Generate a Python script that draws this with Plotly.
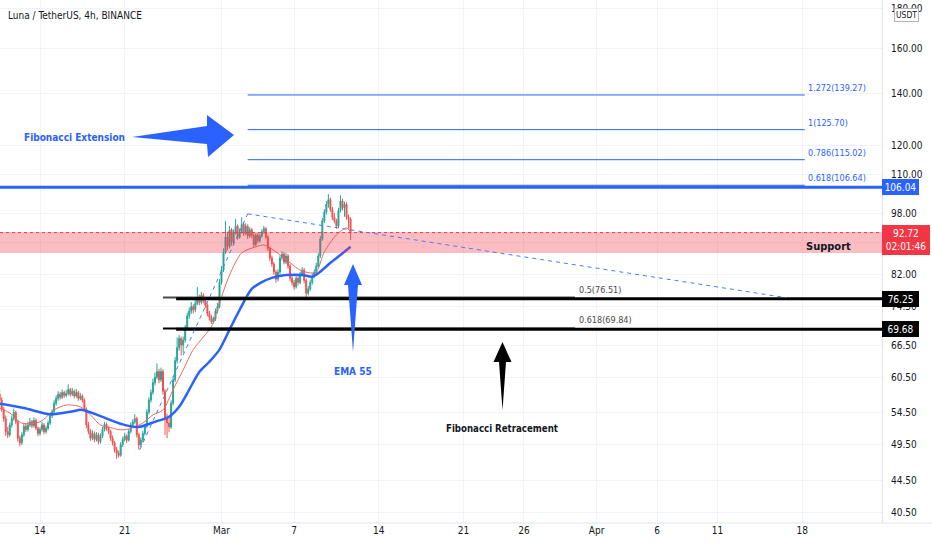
import math
import pandas as pd
import plotly.graph_objects as go

# ---------------- data ----------------
candle_start = "2022-02-10 16:00"   # first 4h candle
opens = [57.5, 56.5, 55.0, 53.5, 51.5, 51.0, 52.5, 53.5, 54.5, 53.0,
         50.5, 49.8, 51.0, 52.3, 51.8, 52.5, 53.0, 52.4, 53.2, 52.0,
         51.2, 51.8, 52.5, 51.5, 52.0, 52.8, 54.0, 54.6, 56.0, 56.8,
         57.5, 57.0, 57.8, 57.3, 57.6, 58.3, 57.5, 58.0, 57.2, 57.8,
         56.8, 57.2, 56.5, 55.0, 52.5, 51.5, 50.5, 51.2, 50.3, 51.0,
         50.0, 50.8, 51.8, 52.6, 52.0, 51.5, 50.5, 49.8, 48.8, 48.3,
         48.0, 49.5, 50.3, 50.8, 50.2, 51.5, 52.5, 53.0, 53.5, 51.0,
         49.5, 50.2, 51.2, 52.3, 54.5, 56.5, 57.8, 59.5, 60.5, 61.5,
         60.0, 61.5, 58.0, 53.5, 52.8, 52.2, 56.0, 60.0, 63.5, 66.0,
         67.8, 66.5, 67.5, 70.0, 72.5, 73.5, 74.5, 73.8, 75.2, 76.5,
         75.5, 77.0, 75.8, 74.8, 73.0, 72.2, 71.2, 71.8, 73.5, 74.5,
         80.0, 83.0, 87.5, 91.5, 89.0, 93.5, 90.0, 92.8, 94.5, 91.5,
         93.0, 95.0, 92.5, 94.5, 91.8, 93.5, 92.0, 89.5, 92.0, 90.5,
         91.8, 93.0, 93.8, 91.5, 88.5, 86.0, 84.5, 82.5, 80.8, 82.5,
         86.0, 87.0, 85.0, 86.5, 84.0, 81.0, 80.0, 79.0, 81.0, 80.0,
         82.0, 83.0, 80.5, 77.5, 78.5, 80.0, 81.5, 82.5, 84.0, 86.5,
         91.0, 96.0, 98.5, 100.8, 102.2, 99.3, 97.0, 96.0, 94.5, 99.0,
         101.8, 99.8, 100.8, 97.0, 96.5]
highs = [58.2, 57.0, 55.4, 54.0, 52.2, 52.9, 54.0, 55.1, 54.8, 53.3,
         50.9, 51.4, 52.8, 52.7, 53.0, 53.6, 53.3, 53.7, 53.5, 52.3,
         52.2, 53.0, 52.8, 52.4, 53.2, 54.4, 55.0, 56.5, 57.3, 58.0,
         57.9, 58.3, 58.1, 58.2, 59.2, 58.6, 58.6, 58.3, 58.4, 58.1,
         57.7, 57.5, 56.8, 55.3, 53.0, 51.9, 51.7, 51.5, 51.4, 51.3,
         51.2, 52.2, 53.0, 52.9, 52.3, 51.8, 50.9, 50.1, 49.2, 48.7,
         49.9, 50.7, 51.3, 51.1, 51.9, 52.9, 53.4, 54.2, 53.8, 51.3,
         50.6, 51.6, 52.7, 55.0, 57.0, 58.3, 60.2, 61.3, 63.0, 62.0,
         62.2, 61.9, 58.4, 54.3, 53.6, 56.5, 60.6, 64.2, 68.0, 68.5,
         68.2, 68.2, 70.6, 73.2, 74.3, 75.5, 75.0, 76.0, 79.0, 77.2,
         77.8, 77.5, 76.3, 75.2, 73.6, 72.7, 72.3, 74.1, 75.3, 80.8,
         84.0, 88.5, 96.0, 93.0, 94.6, 94.0, 93.6, 96.5, 95.0, 93.9,
         97.0, 95.6, 95.3, 95.0, 94.2, 94.0, 92.5, 92.6, 92.6, 92.4,
         93.6, 94.6, 94.2, 92.0, 89.0, 86.6, 85.0, 83.0, 83.2, 86.7,
         87.8, 87.5, 87.3, 87.0, 84.5, 81.6, 80.6, 81.7, 81.5, 82.6,
         83.8, 83.5, 81.0, 79.2, 80.7, 82.2, 83.2, 84.8, 87.3, 91.8,
         96.8, 99.4, 101.8, 103.9, 102.8, 100.0, 98.2, 96.6, 99.8, 103.5,
         102.5, 101.6, 101.4, 97.8, 97.0]
lows = [56.0, 54.6, 53.0, 50.8, 50.5, 50.7, 52.1, 53.2, 52.6, 50.0,
        49.3, 49.5, 50.7, 51.4, 51.5, 52.2, 52.0, 52.1, 51.7, 50.8,
        50.9, 51.5, 51.1, 51.2, 51.7, 52.5, 53.6, 54.3, 55.6, 56.4,
        56.6, 56.7, 56.9, 57.0, 57.3, 57.1, 57.2, 56.8, 56.9, 56.4,
        56.5, 56.1, 54.6, 52.0, 51.1, 50.1, 50.2, 49.9, 50.0, 49.6,
        49.7, 50.5, 51.5, 51.6, 51.1, 50.1, 49.4, 48.4, 47.5, 47.7,
        47.8, 49.2, 50.0, 49.8, 50.0, 51.2, 52.2, 52.7, 50.6, 48.8,
        49.2, 49.9, 50.9, 52.0, 54.2, 56.1, 57.4, 59.0, 60.1, 59.4,
        59.6, 57.4, 51.0, 50.5, 51.4, 51.9, 55.6, 59.6, 63.0, 65.4,
        64.5, 65.0, 67.0, 69.5, 71.8, 72.9, 73.0, 73.3, 74.8, 74.8,
        75.0, 75.2, 74.2, 72.4, 71.5, 70.8, 70.9, 71.4, 73.0, 74.1,
        79.5, 82.5, 87.0, 88.0, 88.5, 89.2, 89.4, 92.2, 90.8, 91.0,
        92.5, 91.8, 92.0, 91.0, 91.3, 91.2, 88.8, 89.0, 89.8, 90.0,
        91.3, 92.4, 90.9, 87.8, 85.3, 83.8, 81.9, 80.0, 80.3, 82.0,
        85.4, 84.4, 84.5, 83.3, 80.3, 79.3, 78.3, 78.6, 79.3, 79.6,
        81.5, 79.8, 76.2, 77.0, 78.0, 79.5, 81.0, 82.0, 83.5, 86.0,
        90.5, 95.4, 97.8, 99.8, 98.6, 96.2, 95.3, 93.8, 94.0, 98.4,
        99.0, 97.2, 96.4, 93.8, 90.7]
closes = [56.5, 55.0, 53.5, 51.5, 51.0, 52.5, 53.5, 54.5, 53.0, 50.5,
          49.8, 51.0, 52.3, 51.8, 52.5, 53.0, 52.4, 53.2, 52.0, 51.2,
          51.8, 52.5, 51.5, 52.0, 52.8, 54.0, 54.6, 56.0, 56.8, 57.5,
          57.0, 57.8, 57.3, 57.6, 58.3, 57.5, 58.0, 57.2, 57.8, 56.8,
          57.2, 56.5, 55.0, 52.5, 51.5, 50.5, 51.2, 50.3, 51.0, 50.0,
          50.8, 51.8, 52.6, 52.0, 51.5, 50.5, 49.8, 48.8, 48.3, 48.0,
          49.5, 50.3, 50.8, 50.2, 51.5, 52.5, 53.0, 53.5, 51.0, 49.5,
          50.2, 51.2, 52.3, 54.5, 56.5, 57.8, 59.5, 60.5, 61.5, 60.0,
          61.5, 58.0, 53.5, 52.8, 52.2, 56.0, 60.0, 63.5, 66.0, 67.8,
          66.5, 67.5, 70.0, 72.5, 73.5, 74.5, 73.8, 75.2, 76.5, 75.5,
          77.0, 75.8, 74.8, 73.0, 72.2, 71.2, 71.8, 73.5, 74.5, 80.0,
          83.0, 87.5, 91.5, 89.0, 93.5, 90.0, 92.8, 94.5, 91.5, 93.0,
          95.0, 92.5, 94.5, 91.8, 93.5, 92.0, 89.5, 92.0, 90.5, 91.8,
          93.0, 93.8, 91.5, 88.5, 86.0, 84.5, 82.5, 80.8, 82.5, 86.0,
          87.0, 85.0, 86.5, 84.0, 81.0, 80.0, 79.0, 81.0, 80.0, 82.0,
          83.0, 80.5, 77.5, 78.5, 80.0, 81.5, 82.5, 84.0, 86.5, 91.0,
          96.0, 98.5, 100.8, 102.2, 99.3, 97.0, 96.0, 94.5, 99.0, 101.8,
          99.8, 100.8, 97.0, 96.5, 92.72]

ema_fast_idx = [0, 5, 11, 20, 27, 33, 40, 45, 50, 55, 59, 63, 66, 71, 76, 81,
                86, 91, 96, 101, 105, 109, 114, 120, 127, 131, 137, 144, 149,
                154, 157, 161, 167, 172, 174]
ema_fast_val = [55.2, 54.4, 52.8, 53.0, 54.9, 55.7, 55.4, 54.1, 52.5, 52.1,
                51.8, 51.8, 52.1, 52.8, 54.1, 54.9, 58.3, 61.8, 65.6, 68.1,
                70.2, 75.3, 81.8, 87.3, 88.9, 89.4, 87.6, 84.8, 83.0, 82.3,
                82.5, 87.6, 92.1, 94.0, 92.9]
ema55_idx = [0, 12, 25, 35, 41, 50, 61, 69, 77, 84, 89, 94, 99, 104, 109, 114,
             119, 125, 130, 135, 142, 150, 155, 159, 164, 169, 174]
ema55_val = [55.9, 55.2, 54.2, 54.6, 54.9, 53.9, 52.6, 52.2, 53.0, 53.8, 55.4,
             58.3, 61.4, 63.3, 65.6, 69.6, 73.8, 78.5, 80.1, 81.1, 81.8, 81.8,
             81.4, 82.6, 84.8, 86.8, 88.9]

# drawings
fib_ext_levels = [139.27, 125.70, 115.02, 106.64]
fib_ext_labels = ["1.272(139.27)", "1(125.70)", "0.786(115.02)", "0.618(106.64)"]
fib_ext_span = ["2022-03-03 04:00", "2022-04-18 05:00"]
fib_ret_levels = [76.51, 69.84]
fib_ret_labels = ["0.5(76.51)", "0.618(69.84)"]
fib_ret_span = ["2022-02-24 04:00", "2022-03-30 05:00"]
fib_ret_label_at = "2022-03-30 10:00"
hlines_black = [76.25, 69.68]
hline_black_start = "2022-02-25 06:00"
hline_blue = 106.04
last_price = 92.72
countdown = "02:01:46"
support_band = [87.3, 92.9]
trend_a = [("2022-02-22 06:00", 48.8), ("2022-03-03 04:00", 98.0)]
trend_b = [("2022-03-03 04:00", 98.0), ("2022-04-16 16:00", 76.5)]

x_tick_dates = ["2022-02-14", "2022-02-21", "2022-03-01", "2022-03-07", "2022-03-14",
                "2022-03-21", "2022-03-26", "2022-04-01", "2022-04-06", "2022-04-11",
                "2022-04-18"]
x_tick_text = ["14", "21", "Mar", "7", "14", "21", "26", "Apr", "6", "11", "18"]
y_ticks = [40.5, 44.5, 49.5, 54.5, 60.5, 66.5, 74.5, 82.0, 90.0, 98.0, 110.0,
           120.0, 140.0, 160.0, 180.0]

# ---------------- figure ----------------
W, H = 932, 550
ML, MR, MT, MB = 0, 50, 0, 27
PW, PH = W - ML - MR, H - MT - MB

def px(x):
    return x / PW

def py(y):
    return 1 - y / PH

def path(points):
    return "M " + " L ".join(f"{px(a):.5f},{py(b):.5f}" for a, b in points) + " Z"

FONT = "Liberation Sans Narrow, Arial Narrow, DejaVu Sans Condensed, Roboto, sans-serif"
UP, DOWN = "#26a69a", "#ef5350"
BLUE = "#2962ff"
TXT = "#131722"

times = pd.date_range(candle_start, periods=len(closes), freq="4h")

fig = go.Figure()
fig.add_trace(go.Candlestick(
    x=times, open=opens, high=highs, low=lows, close=closes,
    increasing=dict(line=dict(color=UP, width=1), fillcolor=UP),
    decreasing=dict(line=dict(color=DOWN, width=1), fillcolor=DOWN),
    whiskerwidth=0, showlegend=False, hoverinfo="skip"))
fig.add_trace(go.Scatter(
    x=times[ema_fast_idx], y=ema_fast_val, mode="lines",
    line=dict(color="#f4675b", width=1, shape="spline", smoothing=0.8),
    showlegend=False, hoverinfo="skip"))
fig.add_trace(go.Scatter(
    x=times[ema55_idx], y=ema55_val, mode="lines",
    line=dict(color=BLUE, width=2.5, shape="spline", smoothing=0.8),
    showlegend=False, hoverinfo="skip"))

shapes = []
# support band + last price dotted line
shapes.append(dict(type="rect", xref="paper", x0=0, x1=1, yref="y",
                   y0=support_band[0], y1=support_band[1],
                   fillcolor="rgba(242,54,69,0.33)", line=dict(width=0), layer="above"))
shapes.append(dict(type="line", xref="paper", x0=0, x1=1, yref="y",
                   y0=last_price, y1=last_price,
                   line=dict(color="#f23645", width=1, dash="dot")))
# blue horizontal
shapes.append(dict(type="line", xref="paper", x0=0, x1=1, yref="y",
                   y0=hline_blue, y1=hline_blue, line=dict(color=BLUE, width=3)))
# fib extension
for lv in fib_ext_levels:
    shapes.append(dict(type="line", xref="x", yref="y", x0=fib_ext_span[0], x1=fib_ext_span[1],
                       y0=lv, y1=lv, line=dict(color=BLUE, width=1)))
# fib retracement
for lv, col in zip(fib_ret_levels, ["#4a4a4a", "#000000"]):
    shapes.append(dict(type="line", xref="x", yref="y", x0=fib_ret_span[0], x1=fib_ret_span[1],
                       y0=lv, y1=lv, line=dict(color=col, width=2)))
for lv in hlines_black:
    shapes.append(dict(type="line", xref="x", yref="y", x0=hline_black_start, x1="2022-05-01",
                       y0=lv, y1=lv, line=dict(color="#000000", width=3)))
# dashed trend lines
for (a, b) in (trend_a, trend_b):
    shapes.append(dict(type="line", xref="x", yref="y", x0=a[0], y0=a[1], x1=b[0], y1=b[1],
                       line=dict(color="#4a7bf7", width=1, dash="4px,4px")))
# arrows (drawings)
shapes.append(dict(type="path", xref="paper", yref="paper", layer="above",
                   path=path([(132, 137), (207, 126), (207, 115), (234, 135),
                              (208, 157), (207, 144)]),
                   fillcolor=BLUE, line=dict(width=0)))
shapes.append(dict(type="path", xref="paper", yref="paper", layer="above",
                   path=path([(353, 264), (362, 285), (358, 285), (353, 352),
                              (348, 285), (344, 285)]),
                   fillcolor=BLUE, line=dict(width=0)))
shapes.append(dict(type="path", xref="paper", yref="paper", layer="above",
                   path=path([(502.5, 342), (511.5, 362), (506, 362), (502.5, 410),
                              (499, 362), (493.5, 362)]),
                   fillcolor="#000000", line=dict(width=0)))
# extend bottom axis line under price scale
shapes.append(dict(type="line", xref="paper", yref="paper", x0=0, x1=W / PW, y0=0, y1=0,
                   line=dict(color="#e0e3eb", width=1)))

ann = []
ann.append(dict(xref="paper", yref="paper", x=px(6), y=py(16), xanchor="left", yanchor="middle",
                text="Luna / TetherUS, 4h, BINANCE", showarrow=False,
                font=dict(family=FONT, size=10, color=TXT)))
ann.append(dict(xref="paper", yref="paper", x=px(74), y=py(137), xanchor="center", yanchor="middle",
                text="<b>Fibonacci Extension</b>", showarrow=False,
                font=dict(family=FONT, size=10, color=BLUE)))
ann.append(dict(xref="paper", yref="paper", x=px(353), y=py(371), xanchor="center", yanchor="middle",
                text="<b>EMA 55</b>", showarrow=False,
                font=dict(family=FONT, size=10, color=BLUE)))
ann.append(dict(xref="paper", yref="paper", x=px(502), y=py(428), xanchor="center", yanchor="middle",
                text="<b>Fibonacci Retracement</b>", showarrow=False,
                font=dict(family=FONT, size=9.6, color=TXT)))
ann.append(dict(xref="paper", yref="paper", x=px(828), y=py(246), xanchor="center", yanchor="middle",
                text="<b>Support</b>", showarrow=False,
                font=dict(family=FONT, size=11, color=TXT)))
for lv, lab in zip(fib_ext_levels, fib_ext_labels):
    ann.append(dict(xref="x", yref="y", x=fib_ext_span[1], y=math.log10(lv), xanchor="left",
                    yanchor="bottom", xshift=1, text=lab, showarrow=False,
                    font=dict(family=FONT, size=9, color=BLUE)))
for lv, lab in zip(fib_ret_levels, fib_ret_labels):
    ann.append(dict(xref="x", yref="y", x=fib_ret_label_at, y=math.log10(lv), xanchor="left",
                    yanchor="bottom", yshift=1, text=lab, showarrow=False,
                    font=dict(family=FONT, size=9, color="#4a4a4a")))
# price-scale labels
def scale_label(val, text, bg):
    ann.append(dict(xref="paper", yref="y", x=1, y=math.log10(val), xanchor="left",
                    yanchor="middle", text=text, showarrow=False, bgcolor=bg,
                    bordercolor=bg, borderpad=1, width=33, height=12, align="center",
                    font=dict(family=FONT, size=10, color="#ffffff")))
scale_label(hline_blue, "106.04", BLUE)
scale_label(hlines_black[0], f"{hlines_black[0]:.2f}", "#000000")
scale_label(hlines_black[1], f"{hlines_black[1]:.2f}", "#000000")
ann.append(dict(xref="paper", yref="y", x=1, y=math.log10(last_price), xanchor="left",
                yanchor="top", yshift=8, text=f"{last_price:.2f}<br>{countdown}", showarrow=False,
                bgcolor="#f23645", bordercolor="#f23645", borderpad=2, width=42, align="center",
                font=dict(family=FONT, size=10, color="#ffffff")))
ann.append(dict(xref="paper", yref="paper", x=px(906.5), y=py(15), xanchor="center", yanchor="middle",
                text="USDT", showarrow=False, bgcolor="#ffffff", bordercolor="#b2b5be",
                borderwidth=1, borderpad=1, font=dict(family=FONT, size=8.5, color=TXT)))

fig.update_layout(
    width=W, height=H, margin=dict(l=ML, r=MR, t=MT, b=MB),
    paper_bgcolor="#ffffff", plot_bgcolor="#ffffff",
    shapes=shapes, annotations=ann, showlegend=False,
    font=dict(family=FONT, color=TXT),
    xaxis=dict(type="date", range=["2022-02-10 16:39", "2022-04-24 14:10"],
               rangeslider=dict(visible=False), tickvals=x_tick_dates, ticktext=x_tick_text,
               showgrid=True, gridcolor="#f0f3fa", zeroline=False, showline=False,
               ticks="", tickfont=dict(family=FONT, size=10, color=TXT), fixedrange=True),
    yaxis=dict(type="log", side="right", range=[math.log10(39.3), math.log10(184.4)],
               tickvals=y_ticks, ticktext=[f"{v:.2f}" for v in y_ticks],
               showgrid=True, gridcolor="#f0f3fa", zeroline=False,
               showline=True, linecolor="#e0e3eb", linewidth=1, ticks="",
               ticklabelstandoff=6,
               tickfont=dict(family=FONT, size=10, color=TXT), fixedrange=True),
)

fig.write_html("out.html", config=dict(displayModeBar=False),
               post_script="document.body.style.margin='0';document.body.style.overflow='hidden';")
